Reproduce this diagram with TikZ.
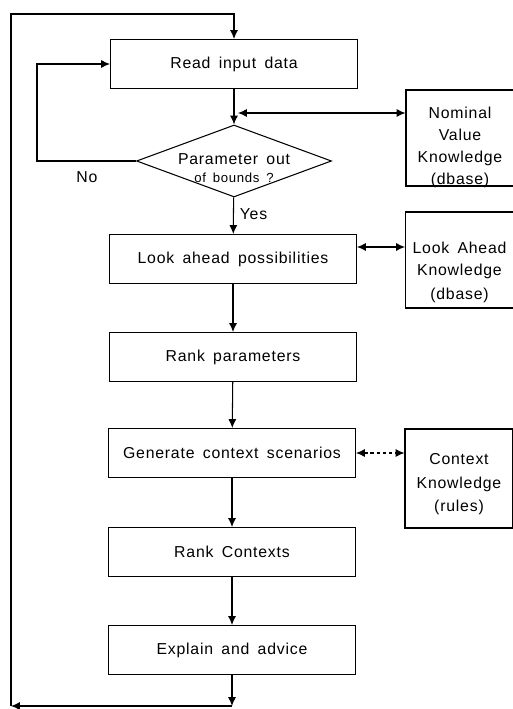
\documentclass[tikz,border=0pt]{standalone}
\usepackage{fontspec}
\setmainfont{Liberation Sans}[LetterSpace=5, WordSpace=1.6]
\usetikzlibrary{shapes.geometric, arrows.meta}

% text set lower in its box, box size unchanged
\newcommand{\lowtext}[2]{\raisebox{-#1}[\height][\depth]{\begin{tabular}{@{}c@{}}#2\end{tabular}}}

\begin{document}
\begin{tikzpicture}[
  x=0.02cm, y=-0.02cm,
  line width=0.6pt,
  font=\fontsize{9}{12.5}\selectfont,
  stage/.style={rectangle, draw, minimum width=4.94cm, minimum height=0.98cm},
  know/.style={rectangle, draw, minimum width=2.16cm, minimum height=1.92cm, inner sep=1pt},
  decide/.style={diamond, draw, aspect=2.7, inner sep=0pt, minimum width=3.9cm, minimum height=1.44cm},
  msg/.style={-{Latex[length=5pt, width=4.5pt]}},
  link/.style={{Latex[length=5pt, width=4.5pt]}-{Latex[length=5pt, width=4.5pt]}},
]
\useasboundingbox (0,0) rectangle (512,709);

\node[stage] (read) at (234,64) {Read input data};
\node[decide] (test) at (234,161) {\raisebox{-7pt}[0pt][0pt]{\begin{tabular}{@{}c@{}}Parameter out\\[-2pt]{\fontsize{7.5}{9}\selectfont of bounds ?}\end{tabular}}};
\node[stage] (look) at (233,259) {Look ahead possibilities};
\node[stage] (rankp) at (233,357) {Rank parameters};
\node[stage] (gen) at (232,453) {Generate context scenarios};
\node[stage] (rankc) at (232,552) {Rank Contexts};
\node[stage] (explain) at (232,650) {Explain and advice};

\node[know] (nominal) at (460,138) {\lowtext{5pt}{Nominal\\Value\\Knowledge\\(dbase)}};
\node[know] (lookk) at (459.5,260) {\lowtext{7pt}{Look Ahead\\Knowledge\\[1pt](dbase)}};
\node[know, minimum height=1.98cm] (context) at (459,478.5) {\lowtext{3pt}{Context\\[1pt]Knowledge\\[1pt](rules)}};

\coordinate (out) at (232,706);
\coordinate (back) at (11,706);
\coordinate (top) at (11,14);
\coordinate (noturn) at (37,161);
\coordinate (nv) at (238,113);
\coordinate (la) at (0,247);

% main flow
\draw[msg] (read) -- (test);
\draw[msg] (test) -- node[right, pos=0.45]{Yes} (look);
\foreach \a/\b in {look/rankp, rankp/gen, gen/rankc, rankc/explain}
  \draw[msg] (\a) -- (\b);
\draw[msg] (explain) -- (out);

% loops back
\draw[msg] (test) -- (noturn) |- (read);
\node (nolabel) at (87,177) {No};
\draw[msg] (out) -- (back);
\draw[msg] (back) -- (top) -| (read);

% knowledge bases
\draw[link] (nv) -- (nominal.west |- nv);
\draw[link] (look.east |- la) -- (lookk.west |- la);
\draw[link, dash pattern=on 2pt off 1.5pt] (gen.east) -- (gen.east -| context.west);
\end{tikzpicture}
\end{document}
